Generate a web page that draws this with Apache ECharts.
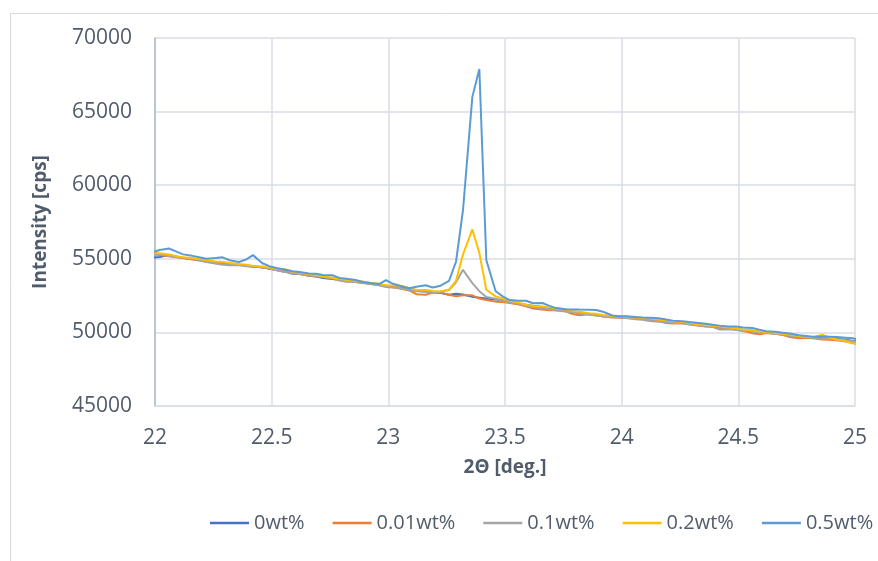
<!DOCTYPE html>
<html>
<head>
<meta charset="utf-8">
<script src="https://cdn.jsdelivr.net/npm/echarts@6/dist/echarts.min.js"></script>
<style>
html,body{margin:0;padding:0;background:#fff;}
#chart{width:878px;height:561px;}
</style>
</head>
<body>
<div id="chart"></div>
<script>
// 2-theta positions (deg.)
const twoTheta = [21.99,22.02,22.06,22.09,22.12,22.16,22.19,22.22,22.26,22.29,22.32,22.36,22.39,22.42,22.46,22.49,22.52,22.56,22.59,22.62,22.66,22.69,22.72,22.76,22.79,22.82,22.86,22.89,22.92,22.96,22.99,23.02,23.06,23.09,23.12,23.16,23.19,23.22,23.26,23.29,23.32,23.36,23.39,23.42,23.46,23.49,23.52,23.56,23.59,23.62,23.66,23.69,23.72,23.76,23.79,23.82,23.86,23.89,23.92,23.96,23.99,24.02,24.06,24.09,24.12,24.16,24.19,24.22,24.26,24.29,24.32,24.36,24.39,24.42,24.46,24.49,24.52,24.56,24.59,24.62,24.66,24.69,24.72,24.76,24.79,24.82,24.86,24.89,24.92,24.96,24.99,25.02];

const seriesNames = ['0wt%','0.01wt%','0.1wt%','0.2wt%','0.5wt%'];

const wt0 = [55080,55120,55250,55150,55050,55000,54960,54850,54720,54680,54640,54600,54520,54460,54420,54330,54240,54110,53990,53960,53850,53800,53700,53620,53580,53520,53430,53380,53320,53220,53150,53120,53010,52920,52840,52780,52720,52700,52560,52620,52580,52420,52360,52300,52240,52180,52100,51950,51880,51800,51720,51600,51560,51500,51410,51350,51260,51200,51130,51090,51040,51010,50990,50950,50900,50840,50760,50720,50650,50580,50520,50450,50400,50340,50290,50220,50150,50100,50020,49980,49920,49850,49800,49700,49660,49640,49600,49580,49560,49500,49420,49360];

const wt001 = [55300,55250,55180,55100,55050,54950,54880,54820,54700,54640,54660,54580,54560,54500,54400,54350,54250,54200,54050,53980,53860,53820,53760,53650,53560,53480,53420,53400,53300,53250,53180,53060,52950,52850,52600,52560,52700,52720,52560,52460,52520,52520,52300,52200,52090,52060,52000,51900,51780,51620,51560,51500,51520,51440,51250,51160,51250,51160,51080,51020,51000,50980,50950,50920,50880,50780,50640,50600,50640,50560,50480,50400,50420,50300,50260,50180,50100,49950,49880,49960,49900,49840,49680,49600,49640,49600,49520,49500,49460,49380,49280,49220];

const wt01 = [55350,55300,55200,55120,55080,54980,54900,54780,54680,54600,54560,54580,54500,54480,54420,54360,54220,54100,54020,53960,53880,53820,53760,53700,53520,53440,53440,53350,53280,53200,53080,53050,53000,52860,52800,52760,52700,52760,52880,53400,54250,53350,52800,52400,52280,52150,52050,51950,51820,51700,51640,51580,51480,51420,51360,51280,51200,51150,51100,51050,51030,50980,50900,50860,50780,50720,50700,50640,50600,50540,50480,50420,50360,50200,50220,50180,50120,50080,50000,49980,49900,49820,49780,49720,49680,49620,49580,49560,49540,49460,49400,49340];

const wt02 = [55400,55380,55300,55180,55100,55050,54980,54900,54820,54780,54720,54640,54600,54520,54480,54400,54320,54280,54100,54050,53950,53900,53820,53720,53640,53560,53500,53460,53380,53300,53200,53180,53150,53000,52900,52880,52820,52780,52900,53500,55300,57000,55400,52900,52450,52300,52150,52020,51880,51800,51760,51700,51620,51560,51460,51400,51300,51260,51180,51120,51090,51060,51020,50980,50950,50860,50800,50760,50700,50640,50560,50500,50460,50400,50340,50280,50200,50140,50060,50030,49960,49900,49860,49740,49700,49680,49840,49650,49520,49400,49260,49200];

const wt05 = [55450,55600,55700,55500,55300,55200,55100,55000,55050,55100,54900,54780,54950,55250,54700,54500,54380,54250,54150,54100,54000,53980,53900,53880,53700,53650,53560,53420,53350,53280,53550,53300,53120,53000,53100,53200,53050,53150,53500,54800,58300,66000,67900,54900,52800,52450,52200,52150,52150,51980,52000,51800,51650,51580,51560,51550,51540,51520,51400,51150,51100,51100,51050,51020,51000,50960,50880,50800,50760,50700,50650,50580,50520,50460,50400,50400,50340,50300,50180,50080,50040,49980,49920,49800,49760,49700,49720,49700,49680,49640,49600,49480];

const xTicks = [22, 22.5, 23, 23.5, 24, 24.5, 25];
const yTicks = [45000, 50000, 55000, 60000, 65000, 70000];

const seriesValues = [wt0, wt001, wt01, wt02, wt05];
const colors = ['#4472C4','#ED7D31','#A5A5A5','#FFC000','#5B9BD5'];

const FONT = '"Open Sans", sans-serif';
const TXT = '#505C6C';

const chart = echarts.init(document.getElementById('chart'), null, {renderer:'canvas'});
chart.setOption({
  animation: false,
  backgroundColor: '#fff',
  color: colors,
  graphic: [{
    type: 'rect', silent: true, z: -10,
    shape: {x: 10.5, y: 13.5, width: 900, height: 600},
    style: {fill: 'none', stroke: '#D9D9D9', lineWidth: 1}
  }],
  grid: {left: 155, right: 23, top: 38, bottom: 155, containLabel: false},
  legend: {
    data: seriesNames,
    left: 205, top: 508, width: 720, orient: 'horizontal',
    icon: 'rect', itemWidth: 39, itemHeight: 2.5, itemGap: 28,
    textStyle: {fontFamily: FONT, fontSize: 20, color: TXT}
  },
  xAxis: {
    type: 'value', min: xTicks[0], max: xTicks[xTicks.length-1], interval: 0.5,
    name: '2Θ [deg.]', nameLocation: 'middle', nameGap: 52,
    nameTextStyle: {fontFamily: FONT, fontSize: 19, fontWeight: 'bold', color: TXT},
    axisLine: {show: true, lineStyle: {color: '#D9DEE6', width: 1.5}},
    axisTick: {show: false},
    axisLabel: {fontFamily: FONT, fontSize: 21, color: TXT, margin: 22, formatter: v => String(v)},
    splitLine: {show: true, lineStyle: {color: '#D9DEE6', width: 1.5}}
  },
  yAxis: {
    type: 'value', min: yTicks[0], max: yTicks[yTicks.length-1], interval: 5000,
    name: 'Intensity [cps]', nameLocation: 'middle', nameGap: 105, nameRotate: 90,
    nameTextStyle: {fontFamily: FONT, fontSize: 19, fontWeight: 'bold', color: TXT},
    axisLine: {show: true, lineStyle: {color: '#AFB8C6', width: 1.5}},
    axisTick: {show: false},
    axisLabel: {fontFamily: FONT, fontSize: 21, color: TXT, margin: 23, formatter: v => String(v)},
    splitLine: {show: true, lineStyle: {color: '#D9DEE6', width: 1.5}}
  },
  series: seriesNames.map((n, k) => ({
    name: n, type: 'line', showSymbol: false, symbol: 'none', clip: true,
    lineStyle: {width: 2, color: colors[k]},
    data: twoTheta.map((x, i) => [x, seriesValues[k][i]])
  }))
});
</script>
</body>
</html>
